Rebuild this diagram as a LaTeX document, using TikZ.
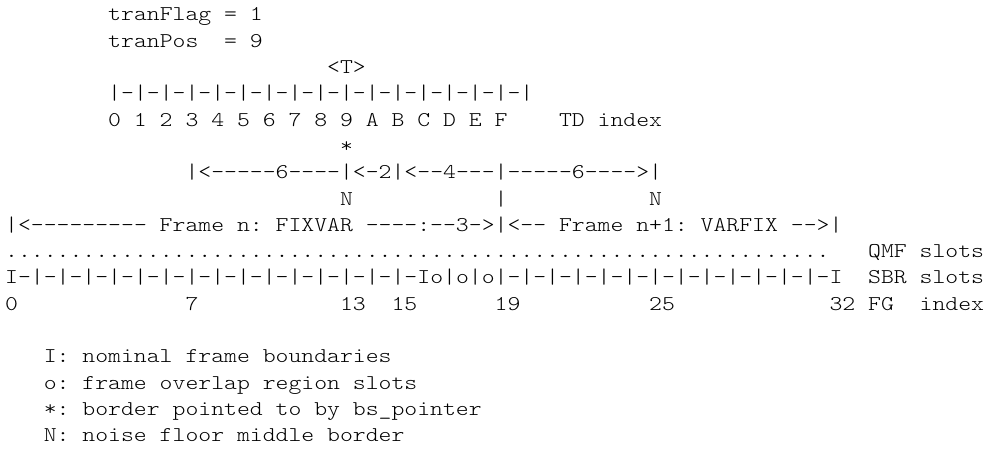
\documentclass[tikz,border=0pt]{standalone}
\usepackage{fontspec}
\setmonofont{lmmonolt10-regular.otf}[FakeStretch=1.1683]
\usepackage{tikz}
\usetikzlibrary{positioning}
\tikzstyle{ascii} = [anchor=base west, inner sep=0pt, outer sep=0pt, text=black, font=\ttfamily\fontsize{21}{21}\selectfont]
\frenchspacing

\begin{document}
\begin{tikzpicture}[x=12.88pt, y=-26.3pt] % one unit = one character cell
\useasboundingbox[fill=white] (-0.404,-0.798) rectangle (76.77,16.50);
\node (flag) [ascii] at (8,0) {tranFlag = 1};
\node (pos) [ascii] at (8,1) {tranPos~~= 9};
\node (tmark) [ascii] at (25,2) {<T>};
\node (tdbar) [ascii] at (8,3) {|-|-|-|-|-|-|-|-|-|-|-|-|-|-|-|-|};
\node (tdidx) [ascii] at (8,4) {0 1 2 3 4 5 6 7 8 9 A B C D E F};
\node (tdlbl) [ascii] at (43,4) {TD index};
\node (star) [ascii] at (26,5) {*};
\node (borders) [ascii] at (14,6) {|<-----6----|<-2|<--4---|-----6---->|};
\node (nleft) [ascii] at (26,7) {N};
\node (nmid) [ascii] at (38,7) {|};
\node (nright) [ascii] at (50,7) {N};
\node (frames) [ascii] at (0,8) {|<--------- Frame n: FIXVAR ----:--3->|<-- Frame n+1: VARFIX -->|};
\node (qmf) [ascii] at (0,9) {................................................................};
\node (qmflbl) [ascii] at (67,9) {QMF slots};
\node (sbr) [ascii] at (0,10) {I-|-|-|-|-|-|-|-|-|-|-|-|-|-|-|-Io|o|o|-|-|-|-|-|-|-|-|-|-|-|-|-I};
\node (sbrlbl) [ascii] at (67,10) {SBR slots};
\node (fg0) [ascii] at (0,11) {0};
\node (fg7) [ascii] at (14,11) {7};
\node (fg13) [ascii] at (26,11) {13};
\node (fg15) [ascii] at (30,11) {15};
\node (fg19) [ascii] at (38,11) {19};
\node (fg25) [ascii] at (50,11) {25};
\node (fg32) [ascii] at (64,11) {32};
\node (fglbl) [ascii] at (67,11) {FG~~index};
\node (legI) [ascii] at (3,13) {I: nominal frame boundaries};
\node (lego) [ascii] at (3,14) {o: frame overlap region slots};
\node (legstar) [ascii] at (3,15) {*: border pointed to by bs\_pointer};
\node (legN) [ascii] at (3,16) {N: noise floor middle border};
\end{tikzpicture}
\end{document}
